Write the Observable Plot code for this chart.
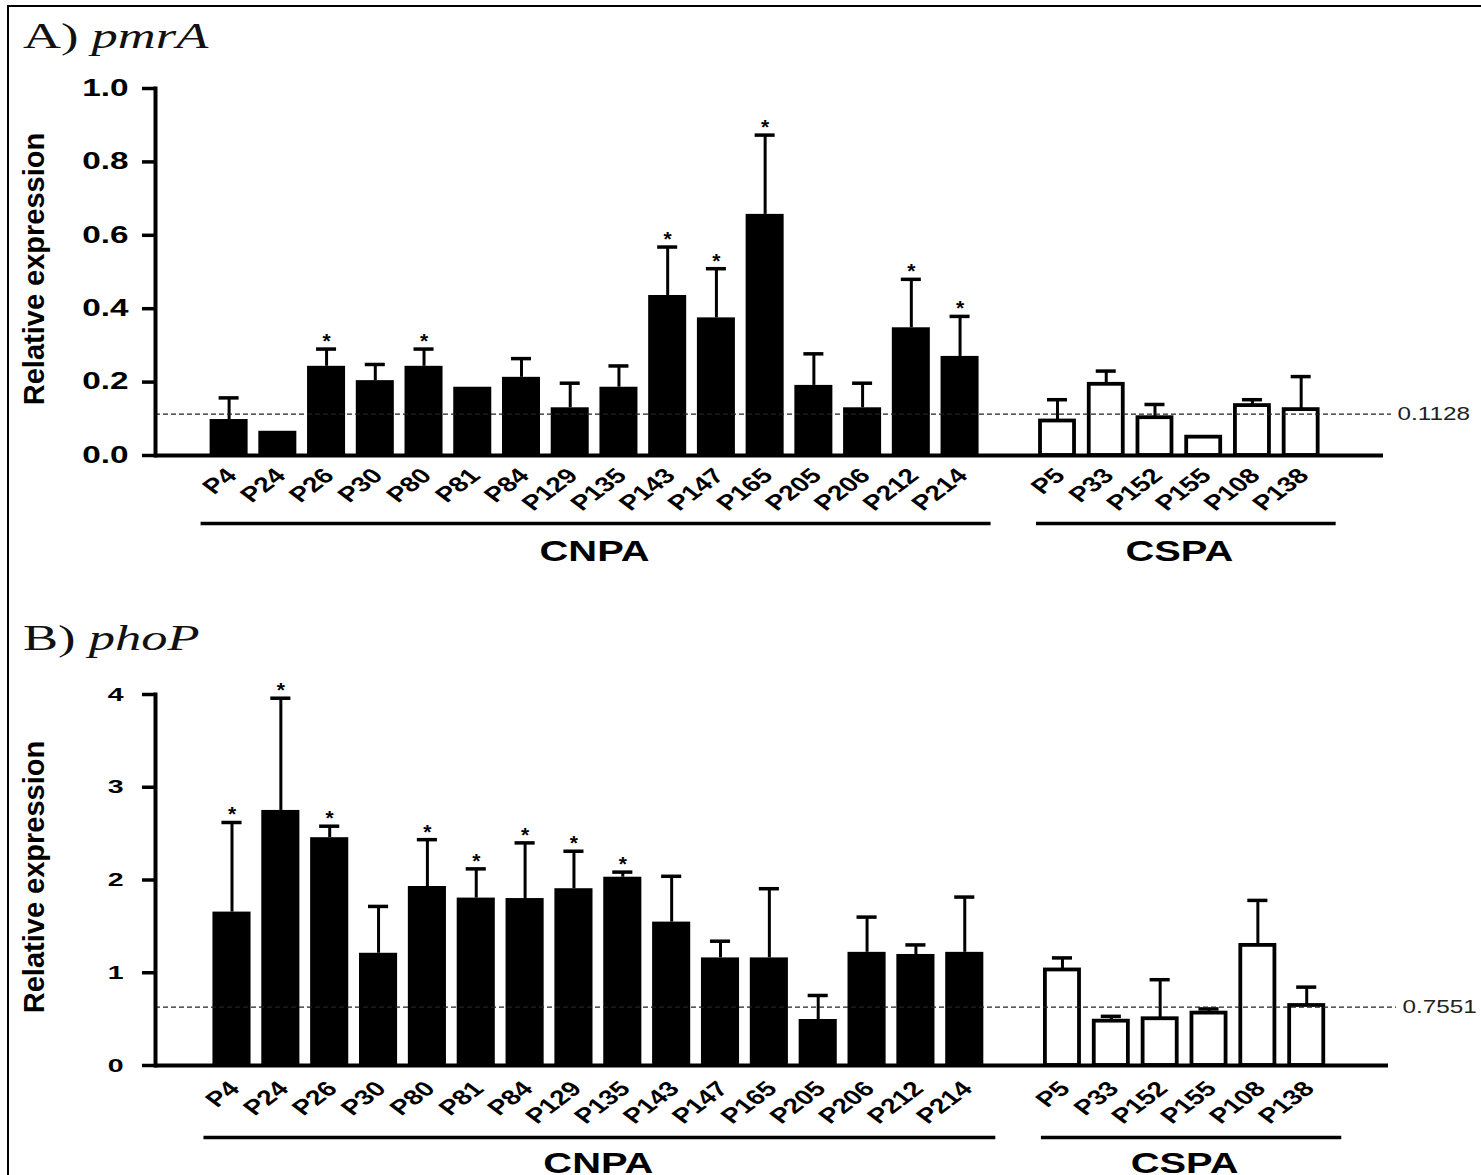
<!DOCTYPE html>
<html>
<head>
<meta charset="utf-8">
<script src="https://cdn.jsdelivr.net/npm/d3@7"></script>
<script src="https://cdn.jsdelivr.net/npm/@observablehq/plot@0.6"></script>
<style>
  html, body { margin: 0; padding: 0; background: #fff; width: 1481px; height: 1175px; overflow: hidden; position: relative; }
  #frame { position: absolute; left: 7px; top: 5px; width: 1500px; height: 1200px; border: 2px solid #000; box-sizing: border-box; }
  .title { position: absolute; font-family: "Liberation Serif", "Times New Roman", serif; font-size: 35px; line-height: 35px;
           transform: scaleX(1.5); transform-origin: 0 0; white-space: nowrap; color: #111; }
  .title i { font-style: italic; }
  .panel { position: absolute; left: 0; }
</style>
</head>
<body>
<div id="frame"></div>
<div class="title" style="left:23px; top:19px">A) <i>pmrA</i></div>
<div class="title" style="left:23px; top:621px">B) <i>phoP</i></div>
<div class="panel" id="panelA" style="top:60px"></div>
<div class="panel" id="panelB" style="top:665px"></div>
<script>
// ---------------- data ----------------
const cnpaStrains = ["P4","P24","P26","P30","P80","P81","P84","P129","P135","P143","P147","P165","P205","P206","P212","P214"];
const cspaStrains = ["P5","P33","P152","P155","P108","P138"];
const groupNames = ["CNPA", "CSPA"];

// A) pmrA  (CNPA 16 then CSPA 6)
const pmrAValues = [0.098,0.066,0.243,0.204,0.243,0.186,0.213,0.130,0.186,0.436,0.375,0.657,0.191,0.130,0.348,0.270,
                    0.094,0.194,0.103,0.050,0.136,0.125];
const pmrAErrTop = [0.157,null,0.290,0.248,0.290,null,0.264,0.197,0.244,0.568,0.509,0.873,0.277,0.197,0.480,0.379,
                    0.152,0.230,0.139,null,0.152,0.215];
const pmrAStars  = [0,0,1,0,1,0,0,0,0,1,1,1,0,0,1,1, 0,0,0,0,0,0];
const pmrATicks  = [0,0.2,0.4,0.6,0.8,1.0];
const pmrARefLine = 0.1128;
const pmrARefLabel = "0.1128";

// B) phoP
const phoPValues = [1.654,2.750,2.456,1.210,1.930,1.805,1.800,1.906,2.030,1.546,1.160,1.160,0.496,1.220,1.197,1.220,
                    1.030,0.478,0.504,0.565,1.295,0.647];
const phoPErrTop = [2.620,3.960,2.580,1.715,2.435,2.120,2.400,2.310,2.085,2.040,1.340,1.906,0.755,1.600,1.300,1.816,
                    1.160,0.530,0.925,0.610,1.780,0.845];
const phoPStars  = [1,1,1,0,1,1,1,1,1,0,0,0,0,0,0,0, 0,0,0,0,0,0];
const phoPTicks  = [0,1,2,3,4];
const phoPRefLine = 0.63;      // position of the dashed line as drawn
const phoPRefLabel = "0.7551";

const yLabel = "Relative expression";

// ---------------- helpers ----------------
const strains = cnpaStrains.concat(cspaStrains);
const xDomain = [...cnpaStrains, "gap", ...cspaStrains];
const groups = [
  {name: groupNames[0], first: cnpaStrains[0], last: cnpaStrains[cnpaStrains.length - 1]},
  {name: groupNames[1], first: cspaStrains[0], last: cspaStrains[cspaStrains.length - 1]}
];
const underlineInsets = [[-9, -12], [-2, -16]];

function rowsFor(values, errs, stars) {
  return strains.map((name, i) => ({
    name, group: i < cnpaStrains.length ? "CNPA" : "CSPA",
    value: values[i], err: errs[i], star: !!stars[i]
  }));
}

function stretchTexts(svg, tickScale) {
  svg.querySelectorAll("text").forEach(t => {
    const content = t.textContent;
    const g = t.closest("g[aria-label]");
    const al = g ? g.getAttribute("aria-label") : "";
    let s;
    if (al === "y-axis tick label") s = tickScale;
    else if (content === yLabel || content === "*") s = 1;
    else if (/^0\.\d{4}$/.test(content)) s = 1.35;
    else s = 1.33;
    if (s === 1) return;
    const tr = t.getAttribute("transform");
    if (tr && /translate\([^)]*\)/.test(tr)) {
      t.setAttribute("transform", tr.replace(/(translate\([^)]*\))/, `$1 scale(${s},1)`));
    } else {
      const xa = t.getAttribute("x"), ya = t.getAttribute("y");
      const isNum = v => v != null && /^-?[\d.]+$/.test(v);
      const x = isNum(xa) ? +xa : 0, y = isNum(ya) ? +ya : 0;
      if (isNum(xa)) t.removeAttribute("x");
      if (isNum(ya)) t.removeAttribute("y");
      t.setAttribute("transform", `translate(${x},${y}) scale(${s},1)` + (tr ? " " + tr : ""));
    }
  });
}

function makePanel(opts) {
  const {rows, ticks, tickFormat, yDomain, ref, refLabel, height, mt, mb, mr, po, align,
         tickFont, tickScale, tickPad, labelDy, underDy, groupDy} = opts;
  const width = 1481, ml = 155, pi = 0.22;
  const xb = d3.scaleBand(xDomain, [ml, width - mr]).paddingInner(pi).paddingOuter(po).align(align);
  const errRows = rows.filter(d => d.err != null);
  const groupMarks = groups.flatMap((g, k) => [
    Plot.ruleY([g], {y: () => 0, x1: "first", x2: "last", dy: underDy, stroke: "#000", strokeWidth: 3.5,
      insetLeft: underlineInsets[k][0], insetRight: underlineInsets[k][1]}),
    Plot.text([g], {
      x: "first", text: "name", frameAnchor: "bottom", dy: groupDy, dx: (xb(g.last) - xb(g.first)) / 2,
      fontSize: 30, lineAnchor: "bottom", textAnchor: "middle"
    })
  ]);

  const chart = Plot.plot({
    width, height,
    marginLeft: ml, marginRight: mr, marginTop: mt, marginBottom: mb,
    style: {fontFamily: "'Liberation Sans', Arial, sans-serif", fontWeight: "bold", color: "#000", background: "transparent"},
    x: {domain: xDomain, paddingInner: pi, paddingOuter: po, align, round: false, axis: null},
    y: {domain: yDomain, axis: null},
    marks: [
      Plot.barY(rows.filter(d => d.group === "CNPA"), {x: "name", y: "value", fill: "#000"}),
      Plot.barY(rows.filter(d => d.group === "CSPA"), {x: "name", y: "value", fill: "#fff", stroke: "#000",
        strokeWidth: 3.8, insetLeft: 2, insetRight: 2}),
      Plot.ruleX(errRows, {x: "name", y1: "value", y2: "err", stroke: "#000", strokeWidth: 3}),
      Plot.tickY(errRows, {x: "name", y: "err", stroke: "#000", strokeWidth: 3.5, insetLeft: 9, insetRight: 9}),
      Plot.text(rows.filter(d => d.star), {x: "name", y: d => d.err ?? d.value, text: () => "*",
        fontSize: 21, lineAnchor: "bottom", dy: -1}),
      Plot.ruleY([ref], {y: d => d, stroke: "#222", strokeWidth: 1.2, strokeDasharray: "5,3", insetRight: -8}),
      Plot.text([refLabel], {y: () => ref, frameAnchor: "right", dx: 14, textAnchor: "start",
        fontWeight: "normal", fontSize: 18, fill: "#222"}),
      Plot.ruleY([0], {y: d => d, stroke: "#000", strokeWidth: 4}),
      Plot.frame({anchor: "left", stroke: "#000", strokeWidth: 4}),
      Plot.axisY({ticks, tickFormat, tickSize: 13, tickPadding: tickPad, fontSize: tickFont,
        stroke: "#000", strokeWidth: 3.5, label: null}),
      Plot.text([yLabel], {frameAnchor: "left", dx: -121, dy: -3, rotate: -90, fontSize: 29, textAnchor: "middle"}),
      Plot.text(strains, {x: d => d, frameAnchor: "bottom", rotate: -45, textAnchor: "end", lineAnchor: "top",
        fontSize: 21, dy: labelDy, dx: -5}),
      ...groupMarks
    ]
  });
  stretchTexts(chart, tickScale);
  return chart;
}

document.getElementById("panelA").appendChild(makePanel({
  rows: rowsFor(pmrAValues, pmrAErrTop, pmrAStars),
  ticks: pmrATicks, tickFormat: d3.format(".1f"), yDomain: [0, 1],
  ref: pmrARefLine, refLabel: pmrARefLabel,
  height: 520, mt: 28, mb: 125, mr: 98, po: 1.21, align: 0.463,
  tickFont: 23, tickScale: 1.45, tickPad: 14, labelDy: 11, underDy: 68, groupDy: 105
}));

document.getElementById("panelB").appendChild(makePanel({
  rows: rowsFor(phoPValues, phoPErrTop, phoPStars),
  ticks: phoPTicks, tickFormat: d3.format("d"), yDomain: [0, 4],
  ref: phoPRefLine, refLabel: phoPRefLabel,
  height: 530, mt: 29, mb: 130, mr: 93, po: 1.23, align: 0.478,
  tickFont: 19, tickScale: 1.5, tickPad: 19, labelDy: 14, underDy: 72, groupDy: 107
}));
</script>
</body>
</html>
